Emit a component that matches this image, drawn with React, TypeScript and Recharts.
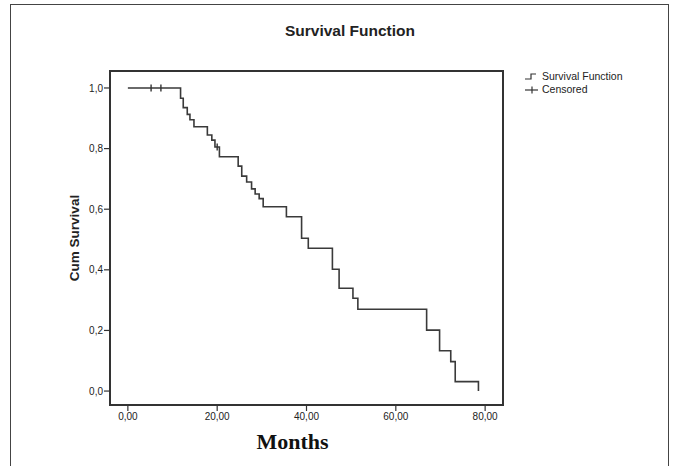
import { ComposedChart, Line, Scatter, XAxis, YAxis, ReferenceArea } from 'recharts';

// Kaplan-Meier steps
const months = [0, 11.8, 12.4, 13.3, 13.9, 14.8, 17.8, 18.8, 19.5, 20.5, 24.7, 25.5, 26.6, 27.7, 28.5, 29.4, 30.3, 35.5, 38.9, 40.4, 45.8, 47.3, 50.4, 51.5, 66.9, 69.8, 72.3, 73.3, 78.5];
const survival = [1.0, 0.966, 0.935, 0.913, 0.895, 0.872, 0.845, 0.828, 0.805, 0.773, 0.742, 0.709, 0.69, 0.667, 0.65, 0.635, 0.608, 0.575, 0.504, 0.471, 0.402, 0.339, 0.306, 0.27, 0.201, 0.133, 0.097, 0.031, 0.0];

const censorMonths = [5.2, 7.4, 20.0];
const censorSurvival = [1.0, 1.0, 0.805];

const xTicks = [0, 20, 40, 60, 80];
const yTicks = [0, 0.2, 0.4, 0.6, 0.8, 1.0];
const xDomain = [-4, 84];
const yDomain = [-0.046, 1.056];

const curve = months.map((m, i) => ({ month: m, surv: survival[i] }));
const censored = censorMonths.map((m, i) => ({ month: m, surv: censorSurvival[i] }));

const ink = '#333333';
const sans = 'Liberation Sans, Arial, sans-serif';

const CensorMark = (props: any) => {
  const { cx, cy } = props;
  return <line x1={cx} x2={cx} y1={cy - 3.5} y2={cy + 3.5} stroke={ink} strokeWidth={1.4} />;
};

const LegendBox = () => (
  <div style={{ position: 'absolute', left: 524, top: 70, fontFamily: sans, fontSize: 10.5, color: '#222', lineHeight: '13px' }}>
    <div style={{ display: 'flex', alignItems: 'center' }}>
      <svg width={18} height={10}>
        <path d="M1,7 H7 V2 H12" fill="none" stroke={ink} strokeWidth={1.2} />
      </svg>
      <span>Survival Function</span>
    </div>
    <div style={{ display: 'flex', alignItems: 'center' }}>
      <svg width={18} height={10}>
        <line x1={1} x2={14} y1={5} y2={5} stroke={ink} strokeWidth={1.2} />
        <line x1={8} x2={8} y1={1.5} y2={8.5} stroke={ink} strokeWidth={1.2} />
      </svg>
      <span>Censored</span>
    </div>
  </div>
);

export default function App() {
  return (
    <div style={{ position: 'absolute', left: 0, top: 0, width: 679, height: 466, background: '#fff', overflow: 'hidden' }}>
      <div style={{ position: 'absolute', left: 10, top: 4, width: 659, height: 480, border: '1.5px solid #444', boxSizing: 'border-box' }} />
      <div
        style={{
          position: 'absolute',
          left: 250,
          width: 200,
          top: 22,
          textAlign: 'center',
          fontFamily: sans,
          fontWeight: 'bold',
          fontSize: 15.5,
          color: '#222',
        }}
      >
        Survival Function
      </div>
      <ComposedChart width={679} height={466} margin={{ top: 71, right: 176, bottom: 31, left: 70 }}>
        <XAxis
          xAxisId="bottom"
          dataKey="month"
          type="number"
          domain={xDomain}
          allowDataOverflow
          ticks={xTicks}
          tickFormatter={(v: number) => v.toFixed(2).replace('.', ',')}
          tick={{ fontSize: 10, fill: '#222', fontFamily: sans }}
          tickSize={6}
          tickLine={{ stroke: ink, strokeWidth: 1.2 }}
          axisLine={{ stroke: ink, strokeWidth: 2 }}
          height={30}
          label={{
            value: 'Months',
            position: 'bottom',
            offset: -2,
            dx: -14,
            style: { fontFamily: 'Liberation Serif, Times New Roman, serif', fontWeight: 'bold', fontSize: 22, fill: '#111' },
          }}
        />
        <YAxis
          yAxisId="left"
          dataKey="surv"
          type="number"
          domain={yDomain}
          allowDataOverflow
          ticks={yTicks}
          tickFormatter={(v: number) => v.toFixed(1).replace('.', ',')}
          tick={{ fontSize: 10, fill: '#222', fontFamily: sans }}
          tickSize={6}
          tickMargin={1}
          tickLine={{ stroke: ink, strokeWidth: 1.2 }}
          axisLine={{ stroke: ink, strokeWidth: 2 }}
          width={40}
          label={{
            value: 'Cum Survival',
            angle: -90,
            position: 'left',
            offset: -4,
            style: { fontFamily: sans, fontWeight: 'bold', fontSize: 13.5, fill: '#222', textAnchor: 'middle' },
          }}
        />
        {/* plot frame */}
        <ReferenceArea
          xAxisId="bottom"
          yAxisId="left"
          x1={xDomain[0]}
          x2={xDomain[1]}
          y1={yDomain[0]}
          y2={yDomain[1]}
          fill="none"
          stroke={ink}
          strokeWidth={2}
          ifOverflow="visible"
        />
        <Line
          xAxisId="bottom"
          yAxisId="left"
          data={curve}
          dataKey="surv"
          type="stepAfter"
          stroke="#3a3a3a"
          strokeWidth={1.6}
          dot={false}
          activeDot={false}
          isAnimationActive={false}
        />
        <Scatter
          xAxisId="bottom"
          yAxisId="left"
          data={censored}
          dataKey="surv"
          shape={CensorMark}
          isAnimationActive={false}
        />
      </ComposedChart>
      <LegendBox />
    </div>
  );
}
